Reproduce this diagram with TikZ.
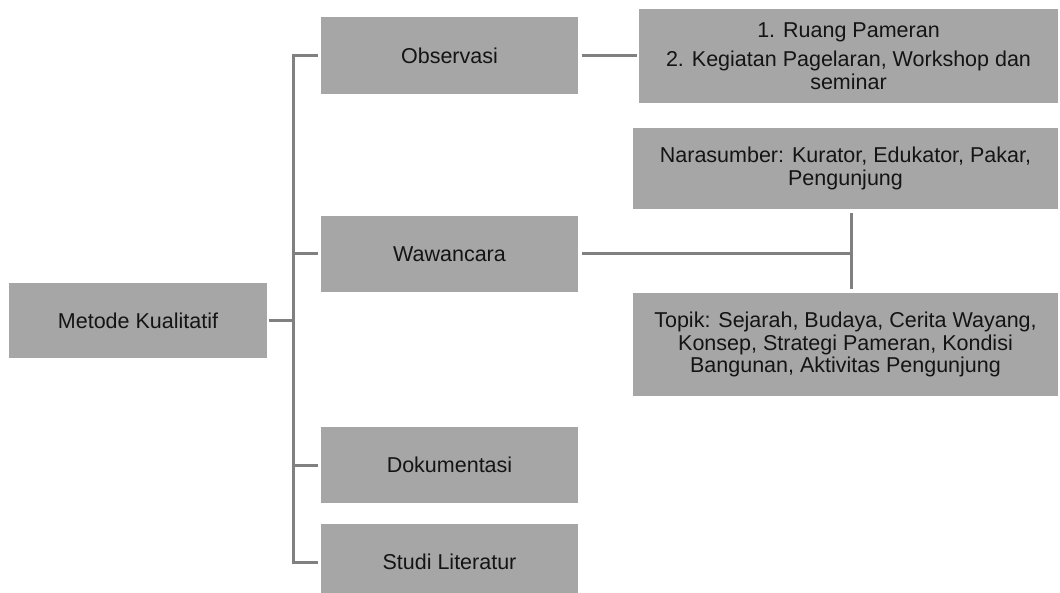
\documentclass[tikz,border=0pt]{standalone}
\usepackage{fontspec}
\setmainfont{Liberation Sans}
\definecolor{boxgray}{HTML}{A6A6A6}
\definecolor{linegray}{HTML}{808080}
\definecolor{txt}{HTML}{141414}
\begin{document}
\begin{tikzpicture}[x=1pt,y=-1pt,
  gbox/.style={fill=boxgray, draw=none, inner sep=0pt, text=txt, align=center,
    font=\fontsize{21.5}{22.5}\selectfont},
  conn/.style={draw=linegray, line width=3pt}]
\useasboundingbox (0,0) rectangle (1060,593);
\begin{scope}
\clip (0,0) rectangle (1060,593);
\node[gbox, minimum width=258pt, minimum height=75pt] (mk) at (138,320.5) {Metode Kualitatif};
\node[gbox, minimum width=257pt, minimum height=77pt] (obs) at (449.5,55.5) {Observasi};
\node[gbox, minimum width=257pt, minimum height=76pt] (waw) at (449.5,254) {Wawancara};
\node[gbox, minimum width=257pt, minimum height=76pt] (dok) at (449.5,465) {Dokumentasi};
\node[gbox, minimum width=257pt, minimum height=76pt] (stu) at (449.5,562) {Studi Literatur};
\node[gbox, minimum width=419pt, minimum height=94pt] (r1) at (848.5,56) {1. Ruang Pameran\\[7pt]2. Kegiatan Pagelaran, Workshop dan\\seminar};
\node[gbox, minimum width=425pt, minimum height=81pt] (nar) at (845.5,168.5) {Narasumber: Kurator, Edukator, Pakar,\\Pengunjung};
\node[gbox, minimum width=425pt, minimum height=103pt] (top) at (845.5,344.5) {Topik: Sejarah, Budaya, Cerita Wayang,\\Konsep, Strategi Pameran, Kondisi\\Bangunan, Aktivitas Pengunjung};
\end{scope}
\coordinate (trunkTop) at (293,55.5);
\coordinate (trunkBot) at (293,562);
\coordinate (trunkMid) at (293,320.5);
\coordinate (wj) at (851,254);
\draw[conn] ([xshift=2pt]mk.east) -- (trunkMid);
\draw[conn] ([xshift=-3pt]obs.west) -- (trunkTop) -- (trunkBot) -- ([xshift=-3pt]stu.west);
\draw[conn] (trunkMid |- waw.west) -- ([xshift=-3pt]waw.west);
\draw[conn] (trunkMid |- dok.west) -- ([xshift=-3pt]dok.west);
\draw[conn] ([xshift=4pt]obs.east) -- ([xshift=-2pt]r1.west |- obs.east);
\draw[conn] ([xshift=4pt]waw.east) -- (wj);
\draw[conn] ([yshift=-4pt]nar.south -| wj) -- ([yshift=4pt]top.north -| wj);
\end{tikzpicture}
\end{document}
